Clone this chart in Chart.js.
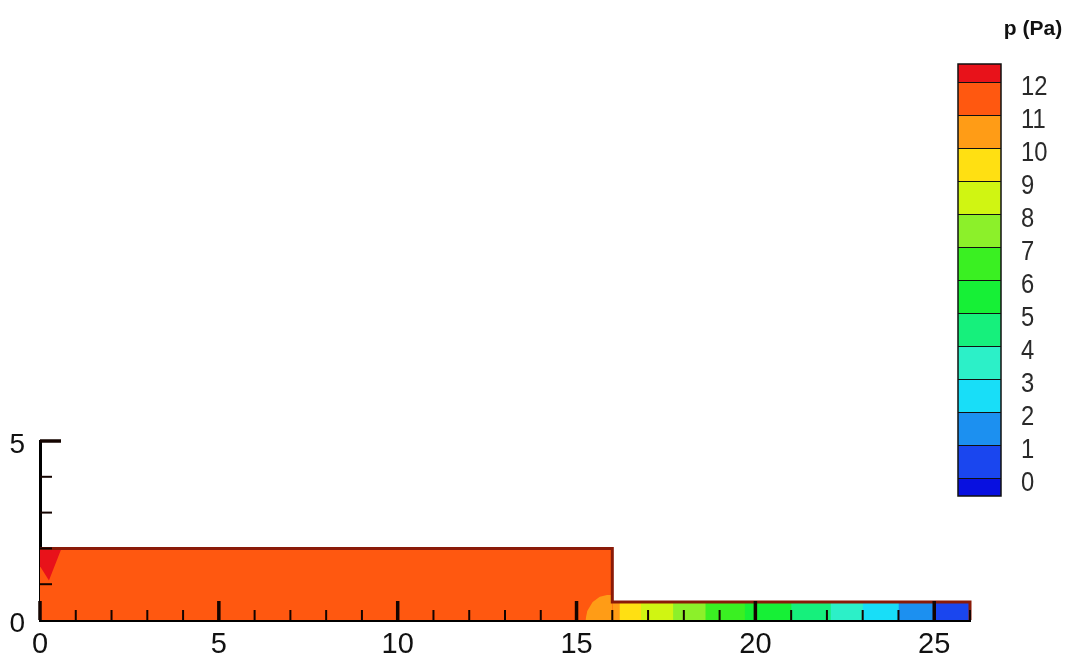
<!DOCTYPE html>
<html><head><meta charset="utf-8">
<script src="https://cdn.jsdelivr.net/npm/chart.js@4/dist/chart.umd.min.js"></script>
<style>html,body{margin:0;padding:0;background:#fff}#wrap{width:1070px;height:666px}</style>
</head><body><div id="wrap"><canvas id="c" width="1070" height="666"></canvas></div>
<script>
// ---- legend / colour levels (p in Pa) ----
const legendLevels = [0,1,2,3,4,5,6,7,8,9,10,11,12];
// colour index 0 = below 0, k = between k-1 and k, 13 = above 12
const levelColors = ['#0810e0','#1a46ef','#1c90f0','#18def8','#2cf0c8','#16f07c','#16f036','#3af022','#8cf02a','#d0f512','#ffe012','#ff9c16','#ff5810','#e8121a'];
const legendTitle = 'p (Pa)';

// ---- axis tick labels ----
const xTickLabels = [0,5,10,15,20,25];
const yTickLabels = [0,5];

// ---- geometry of the domain (x, y in metres) ----
const mainRegion = [{x:0,y:2},{x:16,y:2},{x:16,y:0.5},{x:26,y:0.5}];   // colour band 11-12
const mainBand = 12;
const inletPatch = [{x:0,y:1.5},{x:0.25,y:1.1},{x:0.6,y:2}];            // band > 12, filled up to y=2
const inletBand = 13;
const cornerPatch = [{x:15.25,y:0},{x:15.3,y:0.25},{x:15.45,y:0.5},{x:15.65,y:0.65},{x:15.85,y:0.7},{x:16,y:0.7}]; // band 10-11
const cornerBand = 11;
const outline = [{x:0,y:2},{x:16,y:2},{x:16,y:0.5},{x:26,y:0.5},{x:26,y:0}];

// narrow channel: start of each colour band along x, and its band index
const channelStarts = [16.0,16.2,16.8,17.7,18.6,19.7,21.0,22.1,23.0,24.0,25.0];
const channelBands  = [11,10,9,8,7,6,5,4,3,2,1];
const channelTop = 0.5, channelEnd = 26;

const datasets = [];
datasets.push({data: mainRegion, fill:'origin', backgroundColor: levelColors[mainBand], borderWidth:0, pointRadius:0, order:20});
datasets.push({data: inletPatch, fill:{value:2}, backgroundColor: levelColors[inletBand], borderWidth:0, pointRadius:0, order:15});
datasets.push({data: cornerPatch, fill:'origin', backgroundColor: levelColors[cornerBand], borderWidth:0, pointRadius:0, order:15});
channelStarts.forEach((xs,k)=>{
  datasets.push({data:[{x:xs,y:channelTop},{x:channelEnd,y:channelTop}], fill:'origin',
    backgroundColor: levelColors[channelBands[k]], borderWidth:0, pointRadius:0, order:13-k});
});
datasets.push({data: outline, fill:false, borderColor:'#8a1a08', borderWidth:3, pointRadius:0, order:0, clip:false});

const overlay = {
  id:'overlay',
  afterDraw(chart){
    const ctx = chart.ctx, xs = chart.scales.x, ys = chart.scales.y;
    ctx.save();
    ctx.strokeStyle = '#140400';
    ctx.lineCap = 'butt';
    xs.ticks.forEach(t=>{
      const major = xTickLabels.includes(t.value);
      const px = xs.getPixelForValue(t.value);
      ctx.lineWidth = major ? 3.5 : 2;
      ctx.beginPath(); ctx.moveTo(px, ys.bottom); ctx.lineTo(px, ys.bottom - (major ? 19 : 10)); ctx.stroke();
    });
    ys.ticks.forEach(t=>{
      if (t.value === 0) return;
      const major = yTickLabels.includes(t.value);
      const py = ys.getPixelForValue(t.value);
      ctx.lineWidth = major ? 3.5 : 2;
      ctx.beginPath(); ctx.moveTo(xs.left, py); ctx.lineTo(xs.left + (major ? 21 : 12), py); ctx.stroke();
    });
    // colour bar legend
    const bl = 958, br = 1001, y0 = 478, step = 33, extra = 18;
    const yOf = L => y0 - L*step;
    const nLev = legendLevels.length;
    for (let i=0;i<=nLev;i++){
      const top = i===nLev ? yOf(legendLevels[nLev-1]) - extra : yOf(legendLevels[i]);
      const bot = i===0 ? yOf(legendLevels[0]) + extra : yOf(legendLevels[i-1]);
      ctx.fillStyle = levelColors[i];
      ctx.fillRect(bl, top, br-bl, bot-top);
    }
    ctx.strokeStyle = '#111'; ctx.lineWidth = 1;
    legendLevels.forEach(L=>{
      const y = Math.round(yOf(L))+0.5;
      ctx.beginPath(); ctx.moveTo(bl,y); ctx.lineTo(br,y); ctx.stroke();
    });
    ctx.lineWidth = 1.5;
    ctx.strokeRect(bl, yOf(legendLevels[nLev-1]) - extra, br-bl, (yOf(legendLevels[0]) + extra) - (yOf(legendLevels[nLev-1]) - extra));
    ctx.fillStyle = '#2a2a2a';
    ctx.font = '28px "Liberation Sans", Arial, sans-serif';
    ctx.textAlign = 'left'; ctx.textBaseline = 'middle';
    legendLevels.forEach(L=>{
      ctx.save(); ctx.translate(1021, yOf(L)+5); ctx.scale(0.85,1);
      ctx.fillText(String(L),0,0); ctx.restore();
    });
    ctx.fillStyle = '#111';
    ctx.font = 'bold 21px "Liberation Sans", Arial, sans-serif';
    ctx.textAlign = 'center';
    ctx.fillText(legendTitle, 1033, 29);
    ctx.restore();
  }
};

new Chart(document.getElementById('c'), {
  type:'line',
  data:{datasets},
  options:{
    responsive:false, animation:false, events:[],
    layout:{padding:{top:441,right:100,left:0,bottom:0}},
    plugins:{legend:{display:false}, tooltip:{enabled:false}},
    elements:{line:{tension:0}},
    scales:{
      x:{type:'linear', min:0, max:26, z:1,
        afterFit(s){ s.height = 46; },
        ticks:{stepSize:1, autoSkip:false, maxRotation:0, padding:8, color:'#111',
          font:{family:'"Liberation Sans", Arial, sans-serif', size:29},
          callback:v=> xTickLabels.includes(v) ? String(v) : ''},
        grid:{display:false, drawTicks:false},
        border:{display:true, color:'#000', width:3}},
      y:{type:'linear', min:0, max:5, z:1,
        afterFit(s){ s.width = 40; },
        ticks:{stepSize:1, autoSkip:false, padding:15, labelOffset:4, color:'#111',
          font:{family:'"Liberation Sans", Arial, sans-serif', size:28},
          callback:v=> yTickLabels.includes(v) ? String(v) : ''},
        grid:{display:false, drawTicks:false},
        border:{display:true, color:'#000', width:3}}
    }
  },
  plugins:[overlay]
});
</script></body></html>
